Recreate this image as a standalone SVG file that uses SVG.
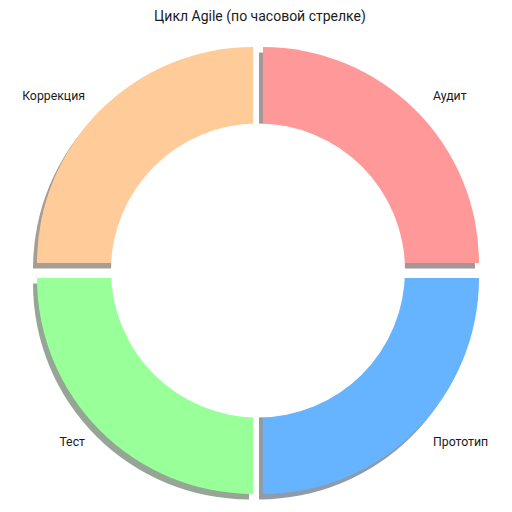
<svg xmlns="http://www.w3.org/2000/svg" width="512" height="512" viewBox="0 0 512 512">
<style>
text{font-family:Roboto,"DejaVu Sans",sans-serif;fill:#1a1a1a}
.title{font-size:14px;text-anchor:middle}
.lbl{font-size:12.3px}
.l{text-anchor:start}
.r{text-anchor:end}
.sh{transform:translate(-4px,5.5px)}
</style>
<rect width="512" height="512" fill="#ffffff"/>
<text class="title" x="260" y="21">Цикл Agile (по часовой стрелке)</text>
<g id="shadows">
<path class="sh" fill="#a69696" d="M263 263 L263 47 A216 216 0 0 1 479 263 Z"/>
<path class="sh" fill="#8f9ba6" d="M263 278 L479 278 A216 216 0 0 1 263 494 Z"/>
<path class="sh" fill="#96a696" d="M253 278 L253 494 A216 216 0 0 1 37 278 Z"/>
<path class="sh" fill="#a69e96" d="M253 263 L37 263 A216 216 0 0 1 253 47 Z"/>
</g>
<g id="audit">
<path fill="#ff9999" d="M263 263 L263 47 A216 216 0 0 1 479 263 Z"/>
<text class="lbl l" x="433" y="100">Аудит</text>
</g>
<g id="prototype">
<path fill="#66b3ff" d="M263 278 L479 278 A216 216 0 0 1 263 494 Z"/>
<text class="lbl l" x="433" y="446">Прототип</text>
</g>
<g id="test">
<path fill="#99ff99" d="M253 278 L253 494 A216 216 0 0 1 37 278 Z"/>
<text class="lbl r" x="85" y="446">Тест</text>
</g>
<g id="correction">
<path fill="#ffcc99" d="M253 263 L37 263 A216 216 0 0 1 253 47 Z"/>
<text class="lbl r" x="85" y="100">Коррекция</text>
</g>
<g id="connectors"></g>
<circle cx="258" cy="270.5" r="147" fill="#ffffff"/>
</svg>
